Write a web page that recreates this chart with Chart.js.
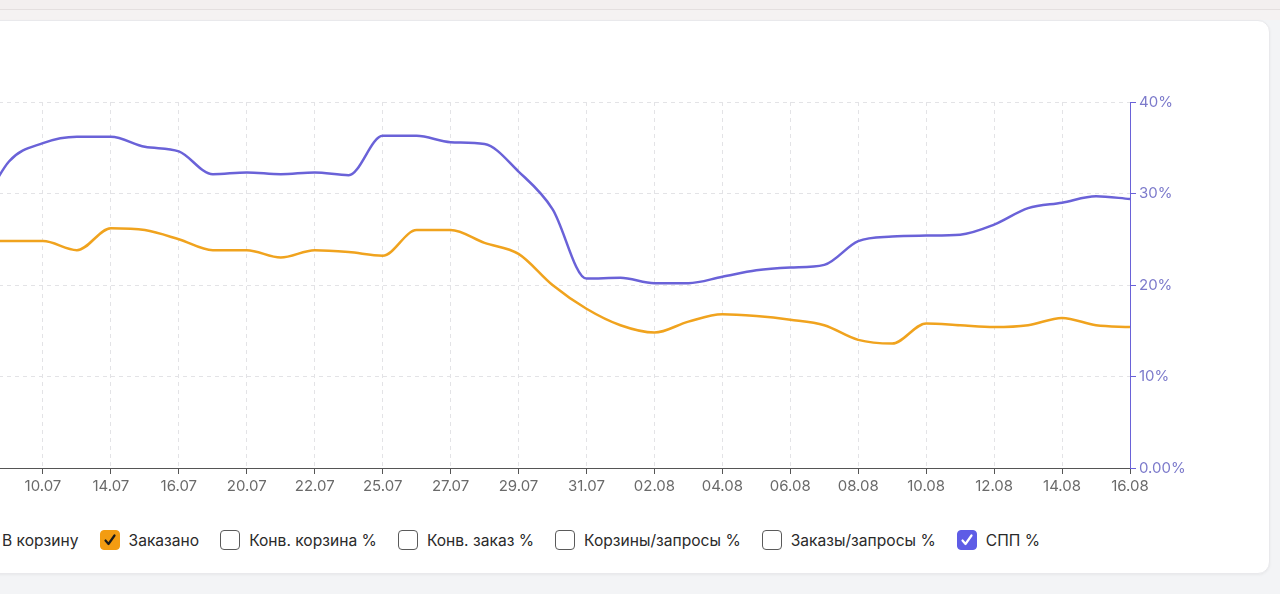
<!DOCTYPE html>
<html lang="ru">
<head>
<meta charset="utf-8">
<title>Заказано / СПП %</title>
<script src="https://cdn.jsdelivr.net/npm/chart.js@4.4.1/dist/chart.umd.min.js"></script>
<style>
  html, body { margin: 0; padding: 0; }
  body {
    width: 1280px; height: 594px; overflow: hidden; position: relative;
    background: #f3f4f6; font-family: Inter, "Noto Sans", sans-serif;
  }
  .topbar { position: absolute; left: 0; top: 0; width: 1280px; height: 9px; background: #f3efef; border-bottom: 1px solid #e4dfdf; }
  .topgap { position: absolute; left: 0; top: 10px; width: 1280px; height: 10px; background: #f5f2f2; }
  .card {
    position: absolute; left: -200px; top: 20px; width: 1470px; height: 554px;
    background: #fff; border: 1px solid #e9e9ec; border-radius: 12px; box-sizing: border-box;
    box-shadow: 0 1px 3px rgba(0,0,0,0.05);
  }
  .chart-box { position: absolute; left: -120px; top: 60px; width: 1320px; height: 446px; }
  .legend {
    position: absolute; left: -27px; top: 530px; height: 20px; display: flex; align-items: center;
    font-size: 15.6px; color: #2a2a2a; white-space: nowrap;
  }
  .legend .item { display: flex; align-items: center; margin-right: 21px; }
  .legend .box {
    width: 20px; height: 20px; box-sizing: border-box; border: 1.5px solid #5a5a5a; border-radius: 4px;
    margin-right: 9px; display: flex; align-items: center; justify-content: center;
  }
</style>
</head>
<body>
<div class="topbar"></div>
<div class="topgap"></div>
<div class="card"></div>
<div class="chart-box"><canvas id="mainChart"></canvas></div>
<div class="legend" id="legend"></div>

<script>
// Даты (каждая вторая подписана на оси)
const dates = ['08.07', '09.07', '10.07', '12.07', '14.07', '15.07', '16.07', '18.07', '20.07', '21.07',
    '22.07', '24.07', '25.07', '26.07', '27.07', '28.07', '29.07', '30.07', '31.07', '01.08',
    '02.08', '03.08', '04.08', '05.08', '06.08', '07.08', '08.08', '09.08', '10.08', '11.08',
    '12.08', '13.08', '14.08', '15.08', '16.08'];

// Заказано, шт (левая ось, за краем)
const ordered = [124, 124, 124, 119, 131, 130, 125, 119, 119, 115,
    119, 118, 116, 130, 130, 123, 117, 100, 87, 78,
    74, 80, 84, 83, 81, 78, 70, 68, 79, 78,
    77, 78, 82, 78, 77];

// СПП %, правая ось
const sppPercent = [27, 33.5, 35.5, 36.2, 36.2, 35.1, 34.6, 32.1, 32.3, 32.1,
    32.3, 32.0, 36.3, 36.3, 35.6, 35.4, 32.4, 28.3, 20.7, 20.8,
    20.2, 20.2, 20.9, 21.6, 21.9, 22.2, 24.8, 25.3, 25.4, 25.5,
    26.6, 28.4, 29.0, 29.7, 29.4];

const pctTicks = ['0.00%', '10%', '20%', '30%', '40%'];

// Легенда: [название, включено, цвет]
const legendItems = [
    ['В корзину', false, null],
    ['Заказано', true, '#f39c12'],
    ['Конв. корзина %', false, null],
    ['Конв. заказ %', false, null],
    ['Корзины/запросы %', false, null],
    ['Заказы/запросы %', false, null],
    ['СПП %', true, '#5e5ce6']
];

const ORANGE = '#f0a31e';
const PURPLE = '#6a62d8';
const gridColor = '#e3e3e6';

function buildLegend() {
    const el = document.getElementById('legend');
    legendItems.forEach(([name, on, color]) => {
        const item = document.createElement('div');
        item.className = 'item';
        const box = document.createElement('div');
        box.className = 'box';
        if (on) {
            box.style.background = color;
            box.style.borderColor = color;
            const tick = color === '#f39c12' ? '#1a1a1a' : '#ffffff';
            box.innerHTML = `<svg width="14" height="14" viewBox="0 0 14 14"><path d="M2.5 7.5 L5.5 11 L11.5 2.5" fill="none" stroke="${tick}" stroke-width="2.2" stroke-linecap="round" stroke-linejoin="round"/></svg>`;
        }
        const label = document.createElement('span');
        label.textContent = name;
        item.appendChild(box);
        item.appendChild(label);
        el.appendChild(item);
    });
}

function createChart() {
    const ctx = document.getElementById('mainChart');

    new Chart(ctx, {
        type: 'line',
        data: {
            labels: dates,
            datasets: [{
                label: 'Заказано',
                data: ordered,
                borderColor: ORANGE,
                borderWidth: 2.5,
                pointRadius: 0,
                cubicInterpolationMode: 'monotone',
                yAxisID: 'y'
            }, {
                label: 'СПП %',
                data: sppPercent,
                borderColor: PURPLE,
                borderWidth: 2.5,
                pointRadius: 0,
                cubicInterpolationMode: 'monotone',
                yAxisID: 'y1'
            }]
        },
        options: {
            responsive: true,
            maintainAspectRatio: false,
            animation: false,
            layout: { padding: { top: 42, right: 0, bottom: 0, left: 0 } },
            plugins: {
                legend: { display: false },
                tooltip: { enabled: false }
            },
            scales: {
                x: {
                    afterFit: (scale) => { scale.height = 38; },
                    grid: { color: gridColor, tickColor: '#555', tickLength: 6 },
                    border: { color: '#555', dash: [4, 4] },
                    ticks: {
                        color: '#6a6a6a',
                        font: { family: 'Inter', size: 15 },
                        autoSkip: false,
                        maxRotation: 0,
                        padding: 3,
                        callback: (value, index) => index % 2 === 0 ? dates[index] : null
                    }
                },
                y: {
                    position: 'left',
                    min: 0,
                    max: 200,
                    afterFit: (scale) => { scale.width = 95; },
                    grid: { display: false },
                    border: { display: false },
                    ticks: { stepSize: 50, color: '#666', font: { family: 'Inter', size: 14 } }
                },
                y1: {
                    position: 'right',
                    min: 0,
                    max: 40,
                    afterFit: (scale) => { scale.width = 70; },
                    grid: { color: gridColor, tickColor: PURPLE, tickLength: 6 },
                    border: { display: true, color: PURPLE, dash: [4, 4] },
                    ticks: {
                        stepSize: 10,
                        color: '#7c7acb',
                        padding: 3,
                        font: { family: 'Inter', size: 15 },
                        callback: (value) => pctTicks[value / 10]
                    }
                }
            }
        }
    });
}

buildLegend();
createChart();
</script>
</body>
</html>
